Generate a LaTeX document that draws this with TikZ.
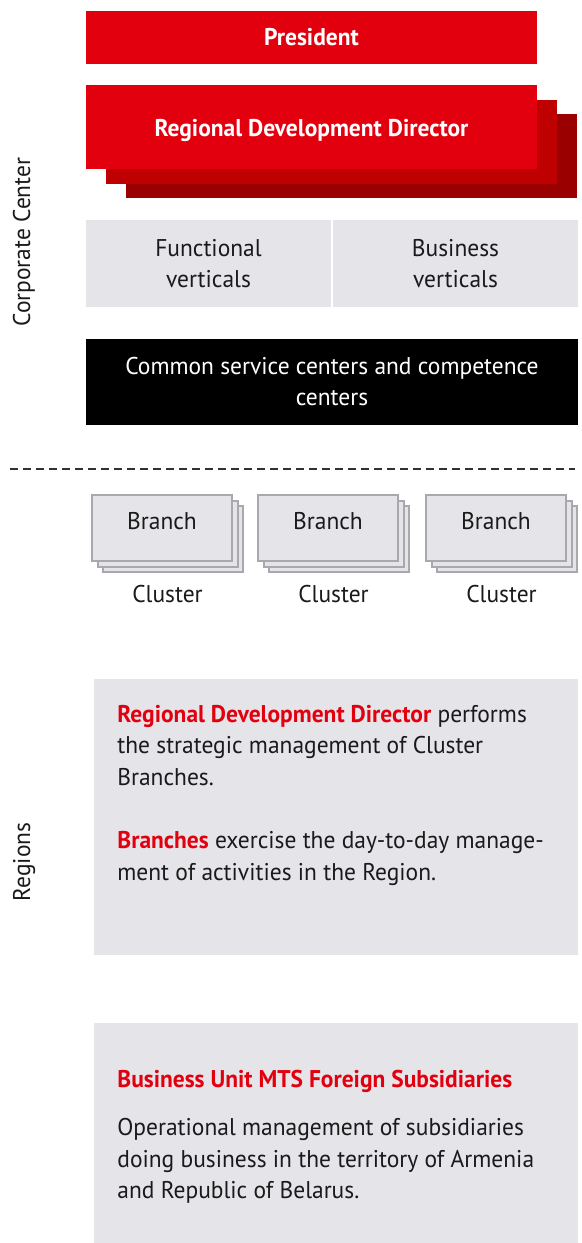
\documentclass[tikz,border=0pt]{standalone}
\usepackage{fontspec}
\setmainfont{PT Sans}[FakeStretch=0.97]
\usetikzlibrary{positioning}
\definecolor{mtsred}{HTML}{E2000F}
\definecolor{mtsredmid}{HTML}{BE0000}
\definecolor{mtsreddark}{HTML}{9B0000}
\definecolor{panel}{HTML}{E5E4E9}
\definecolor{cardline}{HTML}{A8A9AD}
\definecolor{ink}{HTML}{1A1A1A}
\newcommand{\redword}[1]{{\bfseries\color{mtsred}#1}}

\begin{document}
\begin{tikzpicture}[x=0.5pt, y=-0.5pt,
    every node/.style={font=\fontsize{12.1}{15.85}\selectfont, text=ink},
    redbar/.style={fill=mtsred, minimum width=225.5pt, inner sep=0pt, text=white, font=\fontsize{12.1}{15.85}\selectfont\bfseries},
    shadowbar/.style={minimum width=225.5pt, minimum height=42pt, inner sep=0pt},
    vertical/.style={fill=panel, minimum width=122.5pt, minimum height=43.5pt, inner sep=0pt, align=center},
    blackbar/.style={fill=black, text=white, minimum width=246pt, minimum height=43pt, inner sep=0pt, align=center},
    card/.style={draw=cardline, line width=1pt, fill=panel, minimum width=70pt, minimum height=33pt, inner sep=0pt},
    cluster/.style={inner sep=0pt},
    note/.style={fill=panel, minimum width=242pt, inner sep=0pt},
    notetext/.style={anchor=north west, inner sep=0pt, align=left},
    side/.style={rotate=90, inner sep=0pt},
    divider/.style={line width=1pt, color=ink!90, dash pattern=on 4pt off 2.5pt},
]
\useasboundingbox (0,0) rectangle (582,1243);
\node[redbar, minimum height=26.5pt] (president) at (311.5,37.5) {President};
\node[shadowbar, fill=mtsreddark] (rdddark) at (351.5,155.5) {};
\node[shadowbar, fill=mtsredmid] (rddmid) at (331.5,141.5) {};
\node[redbar, minimum height=42pt, text height=12pt, text depth=2.3pt] (rdd) at (311.5,127) {Regional Development Director};
\node[vertical] (func) at (208.5,263.5) {Functional\\verticals};
\node[vertical] (biz) at (455.5,263.5) {Business\\verticals};
\node[blackbar] (common) at (332,381.5) {Common service centers and competence\\centers};
\node[side] (corp) at (24,242) {Corporate Center};
\draw[divider] (10,469) -- (575,469);
\foreach \x/\n in {162/1,328/2,496/3}{
  \node[card] (branch\n c) at (\x+11,539) {};
  \node[card] (branch\n b) at (\x+5.5,533.5) {};
  \node[card, text height=9pt, text depth=7.5pt] (branch\n) at (\x,528) {Branch};
  \node[cluster, below=8.5pt of branch\n b] (cluster\n) {Cluster};
}
\node[note, minimum height=138pt] (regbox) at (336,817) {};
\node[notetext] (regtext) at (117,704.4) {\redword{Regional Development Director} performs\\the strategic management of Cluster\\Branches.\\[15.85pt]\redword{Branches} exercise the day-to-day manage-\\ment of activities in the Region.};
\node[side] (regions) at (24,862) {Regions};
\node[note, minimum height=110pt] (fsbox) at (336,1133) {};
\node[anchor=base west, inner sep=0pt] (fstitle) at (117,1087) {\redword{Business Unit MTS Foreign Subsidiaries}};
\node[notetext] (fsbody) at (117,1117.7) {Operational management of subsidiaries\\doing business in the territory of Armenia\\and Republic of Belarus.};
\end{tikzpicture}
\end{document}
